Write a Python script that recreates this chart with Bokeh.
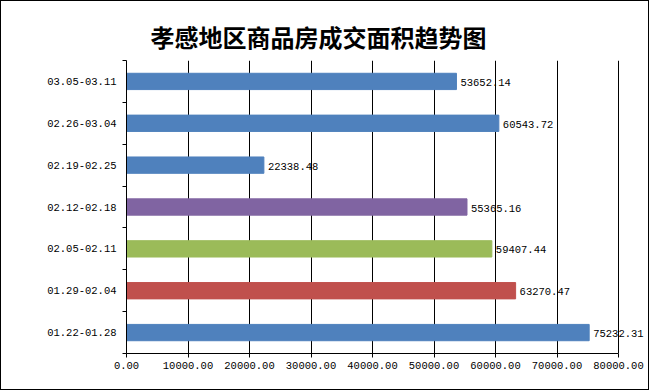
from bokeh.plotting import figure
from bokeh.models import (ColumnDataSource, FixedTicker, PrintfTickFormatter,
                          Range1d, LabelSet, Title)
from bokeh.core.properties import value
from bokeh.embed import file_html
from bokeh.resources import INLINE

# data (bottom to top, as drawn)
weeks = ["01.22-01.28", "01.29-02.04", "02.05-02.11", "02.12-02.18",
         "02.19-02.25", "02.26-03.04", "03.05-03.11"]
areas = [75232.31, 63270.47, 59407.44, 55365.16, 22338.48, 60543.72, 53652.14]
bar_colors = ["#4F81BD", "#C0504D", "#9BBB59", "#8064A2",
              "#4F81BD", "#4F81BD", "#4F81BD"]
x_ticks = [0, 10000, 20000, 30000, 40000, 50000, 60000, 70000, 80000]
title_text = "孝感地区商品房成交面积趋势图"

pos = [i + 0.5 for i in range(len(weeks))]
bounds = list(range(len(weeks) + 1))
labels = ["%.2f" % a for a in areas]

src = ColumnDataSource(dict(y=pos, right=areas, color=bar_colors, label=labels))

W, H = 649, 390
LEFT, RIGHT_AXIS, RIGHT_FRAME, TOP, BOTTOM = 125, 617, 646, 59, 352
x_max = x_ticks[-1]
x_end = (RIGHT_FRAME - LEFT) / (RIGHT_AXIS - LEFT) * x_max

p = figure(width=W, height=H, output_backend="svg", toolbar_location=None,
           x_range=Range1d(0, x_end), y_range=Range1d(0, len(weeks)),
           min_border_left=LEFT, min_border_right=W - RIGHT_FRAME,
           min_border_top=TOP, min_border_bottom=H - BOTTOM)
p.styles = {"border": "1px solid black", "box-sizing": "border-box"}
p.outline_line_color = None
p.background_fill_color = "white"
p.border_fill_color = "white"

p.add_layout(Title(text=title_text, align="left", offset=24,
                   text_font="Noto Sans CJK SC", text_font_size="24px",
                   text_font_style="bold", text_color="black",
                   standoff=14), "above")

p.hbar(y="y", left=0, right="right", height=0.39, color="color", source=src)
p.add_layout(LabelSet(x="right", y="y", text="label", source=src, x_offset=4,
                      y_offset=-1, text_baseline="middle", text_align="left",
                      text_font_size=value("10.5px"),
                      text_font=value("Liberation Mono"),
                      text_color="black"))

# x axis
xa = p.xaxis[0]
xa.bounds = (0, x_max)
xa.ticker = FixedTicker(ticks=x_ticks)
xa.formatter = PrintfTickFormatter(format="%.2f")
xa.axis_line_color = "black"
xa.major_tick_line_color = "black"
xa.major_tick_in = 0
xa.major_tick_out = 4
xa.minor_tick_line_color = None
xa.major_label_standoff = 4
xa.major_label_text_font = "Liberation Mono"
xa.major_label_text_font_size = "10.5px"
xa.major_label_text_color = "black"

# y axis
ya = p.yaxis[0]
ya.ticker = FixedTicker(ticks=pos, minor_ticks=bounds)
ya.major_label_overrides = {pp: w for pp, w in zip(pos, weeks)}
ya.axis_line_color = "black"
ya.major_tick_line_color = None
ya.major_tick_in = 0
ya.major_tick_out = 0
ya.minor_tick_line_color = "black"
ya.minor_tick_in = 0
ya.minor_tick_out = 4
ya.major_label_standoff = 6
ya.major_label_text_font = "Liberation Mono"
ya.major_label_text_font_size = "10.5px"
ya.major_label_text_color = "black"

p.xgrid.ticker = FixedTicker(ticks=x_ticks[1:])
p.xgrid.grid_line_color = "black"
p.xgrid.grid_line_width = 1
p.ygrid.grid_line_color = None

open("out.html", "w").write(file_html(p, INLINE))
